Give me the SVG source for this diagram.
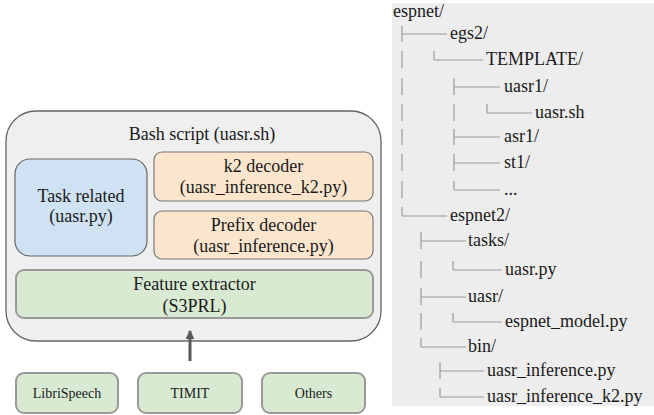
<svg xmlns="http://www.w3.org/2000/svg" width="654" height="415" viewBox="0 0 654 415">
<defs>
<style>
.tree line{stroke:#9a9a9a;stroke-width:1.2}
.src{fill:#d9ead3;stroke:#999;stroke-width:2}
</style>
<marker id="ah" viewBox="0 0 10 10" refX="9" refY="5" markerWidth="3" markerHeight="3" orient="auto">
<path d="M0,0 L10,5 L0,10 z" fill="#595959"/>
</marker>
</defs>
<rect width="654" height="415" fill="#fff"/>
<g id="bash">
<rect x="6" y="111" width="375" height="230" rx="30" fill="#efefef" stroke="#666" stroke-width="1.3"/>
<text style="font-family:'Liberation Serif',serif;font-size:18px;text-anchor:middle;fill:#1a1a1a" x="202" y="140">Bash script (uasr.sh)</text>
</g>
<g id="task">
<rect x="15" y="159" width="132" height="97" rx="15" fill="#cfe2f3" stroke="#666" stroke-width="1.2"/>
<text style="font-family:'Liberation Serif',serif;font-size:18px;text-anchor:middle;fill:#1a1a1a" x="81" y="202">Task related</text>
<text style="font-family:'Liberation Serif',serif;font-size:18px;text-anchor:middle;fill:#1a1a1a" x="81" y="222">(uasr.py)</text>
</g>
<g id="k2">
<rect x="154" y="152" width="219" height="49" rx="8" fill="#fce5cd" stroke="#777" stroke-width="1.2"/>
<text style="font-family:'Liberation Serif',serif;font-size:18px;text-anchor:middle;fill:#1a1a1a" x="263.5" y="172">k2 decoder</text>
<text style="font-family:'Liberation Serif',serif;font-size:18px;text-anchor:middle;fill:#1a1a1a" x="263.5" y="193">(uasr_inference_k2.py)</text>
</g>
<g id="prefix">
<rect x="154" y="211" width="219" height="48" rx="8" fill="#fce5cd" stroke="#777" stroke-width="1.2"/>
<text style="font-family:'Liberation Serif',serif;font-size:18px;text-anchor:middle;fill:#1a1a1a" x="263.5" y="231">Prefix decoder</text>
<text style="font-family:'Liberation Serif',serif;font-size:18px;text-anchor:middle;fill:#1a1a1a" x="263.5" y="252">(uasr_inference.py)</text>
</g>
<g id="feat">
<rect x="16" y="270" width="357" height="48" rx="8" fill="#d9ead3" stroke="#999" stroke-width="2"/>
<text style="font-family:'Liberation Serif',serif;font-size:18px;text-anchor:middle;fill:#1a1a1a" x="194.5" y="290">Feature extractor</text>
<text style="font-family:'Liberation Serif',serif;font-size:18px;text-anchor:middle;fill:#1a1a1a" x="194.5" y="312">(S3PRL)</text>
</g>
<g id="libri">
<rect class="src" x="16" y="373" width="102" height="40" rx="8"/>
<text style="font-family:'Liberation Serif',serif;font-size:14px;text-anchor:middle;fill:#1a1a1a" x="67" y="398">LibriSpeech</text>
</g>
<g id="timit">
<rect class="src" x="138" y="373" width="104" height="40" rx="8"/>
<text style="font-family:'Liberation Serif',serif;font-size:14px;text-anchor:middle;fill:#1a1a1a" x="190" y="398">TIMIT</text>
</g>
<g id="others">
<rect class="src" x="262" y="373" width="103" height="40" rx="8"/>
<text style="font-family:'Liberation Serif',serif;font-size:14px;text-anchor:middle;fill:#1a1a1a" x="313.5" y="398">Others</text>
</g>
<g id="connectors">
<line x1="190" y1="361" x2="190" y2="331" stroke="#595959" stroke-width="3" marker-end="url(#ah)"/>
</g>

<g id="tree">
<rect x="392" y="3" width="262" height="403" fill="#ededed"/>
<g class="tree">
<line x1="402" y1="26" x2="402" y2="42"/><line x1="402" y1="34" x2="447" y2="34"/>
<line x1="402" y1="51" x2="402" y2="68"/>
<line x1="402" y1="78" x2="402" y2="95"/>
<line x1="402" y1="104" x2="402" y2="121"/>
<line x1="402" y1="129" x2="402" y2="145"/>
<line x1="402" y1="154" x2="402" y2="171"/>
<line x1="402" y1="181" x2="402" y2="198"/>
<line x1="402" y1="207" x2="402" y2="216"/><line x1="402" y1="216" x2="447" y2="216"/>
<line x1="434" y1="51" x2="434" y2="60"/><line x1="434" y1="60" x2="483" y2="60"/>
<line x1="454" y1="78" x2="454" y2="95"/><line x1="454" y1="87" x2="500" y2="87"/>
<line x1="454" y1="104" x2="454" y2="121"/>
<line x1="487" y1="104" x2="487" y2="113"/><line x1="487" y1="113" x2="532" y2="113"/>
<line x1="454" y1="129" x2="454" y2="145"/><line x1="454" y1="137" x2="500" y2="137"/>
<line x1="454" y1="154" x2="454" y2="171"/><line x1="454" y1="163" x2="500" y2="163"/>
<line x1="454" y1="181" x2="454" y2="190"/><line x1="454" y1="190" x2="500" y2="190"/>
<line x1="421" y1="232" x2="421" y2="249"/><line x1="421" y1="241" x2="466" y2="241"/>
<line x1="421" y1="261" x2="421" y2="278"/>
<line x1="453" y1="261" x2="453" y2="270"/><line x1="453" y1="270" x2="502" y2="270"/>
<line x1="421" y1="288" x2="421" y2="305"/><line x1="421" y1="297" x2="466" y2="297"/>
<line x1="421" y1="313" x2="421" y2="330"/>
<line x1="453" y1="313" x2="453" y2="322"/><line x1="453" y1="322" x2="502" y2="322"/>
<line x1="421" y1="338" x2="421" y2="347"/><line x1="421" y1="347" x2="466" y2="347"/>
<line x1="440" y1="362" x2="440" y2="379"/><line x1="440" y1="371" x2="484" y2="371"/>
<line x1="440" y1="388" x2="440" y2="397"/><line x1="440" y1="397" x2="484" y2="397"/>
</g>
<text style="font-family:'Liberation Serif',serif;font-size:18px;fill:#1a1a1a" x="393" y="17">espnet/</text>
<text style="font-family:'Liberation Serif',serif;font-size:18px;fill:#1a1a1a" x="450" y="39">egs2/</text>
<text style="font-family:'Liberation Serif',serif;font-size:18px;fill:#1a1a1a" x="486" y="65">TEMPLATE/</text>
<text style="font-family:'Liberation Serif',serif;font-size:18px;fill:#1a1a1a" x="504" y="92">uasr1/</text>
<text style="font-family:'Liberation Serif',serif;font-size:18px;fill:#1a1a1a" x="535" y="118">uasr.sh</text>
<text style="font-family:'Liberation Serif',serif;font-size:18px;fill:#1a1a1a" x="504" y="142">asr1/</text>
<text style="font-family:'Liberation Serif',serif;font-size:18px;fill:#1a1a1a" x="504" y="168">st1/</text>
<text style="font-family:'Liberation Serif',serif;font-size:18px;fill:#1a1a1a" x="504" y="195">...</text>
<text style="font-family:'Liberation Serif',serif;font-size:18px;fill:#1a1a1a" x="450" y="221">espnet2/</text>
<text style="font-family:'Liberation Serif',serif;font-size:18px;fill:#1a1a1a" x="468" y="246">tasks/</text>
<text style="font-family:'Liberation Serif',serif;font-size:18px;fill:#1a1a1a" x="505" y="275">uasr.py</text>
<text style="font-family:'Liberation Serif',serif;font-size:18px;fill:#1a1a1a" x="468" y="302">uasr/</text>
<text style="font-family:'Liberation Serif',serif;font-size:18px;fill:#1a1a1a" x="505" y="327">espnet_model.py</text>
<text style="font-family:'Liberation Serif',serif;font-size:18px;fill:#1a1a1a" x="468" y="352">bin/</text>
<text style="font-family:'Liberation Serif',serif;font-size:18px;fill:#1a1a1a" x="487" y="376">uasr_inference.py</text>
<text style="font-family:'Liberation Serif',serif;font-size:18px;fill:#1a1a1a" x="487" y="402">uasr_inference_k2.py</text>
</g>
</svg>
